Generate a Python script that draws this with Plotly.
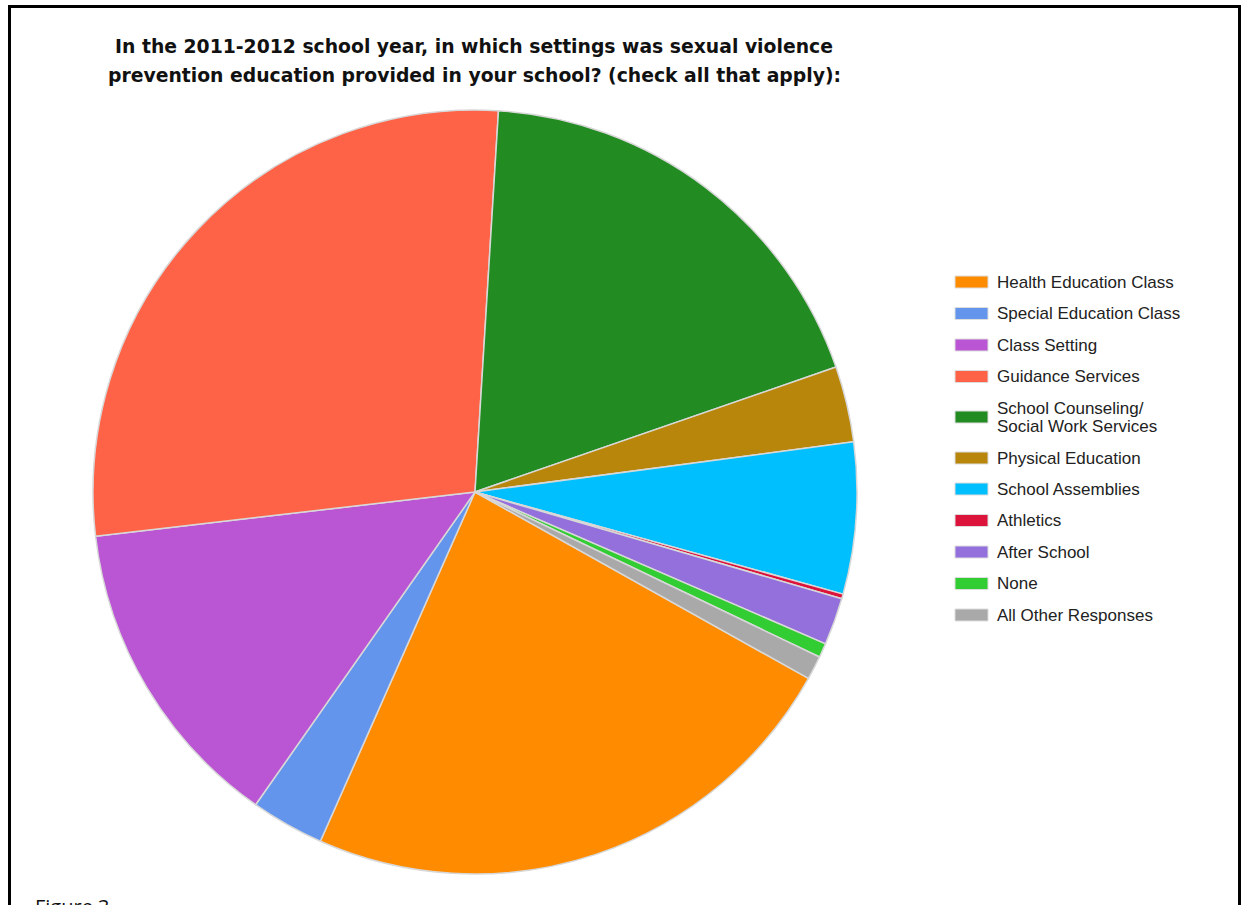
import plotly.graph_objects as go

labels = ["Health Education Class", "Special Education Class", "Class Setting",
          "Guidance Services", "School Counseling/<br>Social Work Services",
          "Physical Education", "School Assemblies", "Athletics", "After School",
          "None", "All Other Responses"]
values = [23.5, 3.1, 13.4, 27.8, 18.7, 3.2, 6.4, 0.2, 2.0, 0.6, 1.0]
colors = ["#FF8C00", "#6495ED", "#BA55D3", "#FF6347", "#228B22", "#B8860B",
          "#00BFFF", "#DC143C", "#9370DB", "#32CD32", "#A9A9A9"]
title_lines = ["In the 2011-2012 school year, in which settings was sexual violence",
               "prevention education provided in your school? (check all that apply):"]

W, H = 1244, 905

def px(x):
    return x / W

def py(y):
    return 1 - y / H

cx, cy, r = 475, 492, 382

fig = go.Figure(go.Pie(
    labels=labels, values=values, sort=False, direction="clockwise",
    rotation=119.2, textinfo="none", hoverinfo="label+percent",
    marker=dict(colors=colors, line=dict(color="#d8d8d8", width=1.5)),
    domain=dict(x=[px(cx - r), px(cx + r)], y=[py(cy + r), py(cy - r)]),
    showlegend=False,
))

shapes = []
annotations = []

# frame
shapes.append(dict(type="rect", xref="paper", yref="paper",
                   x0=px(9.5), x1=px(1239.5), y0=py(960), y1=py(6.5),
                   line=dict(color="black", width=3)))

# title (two lines)
for line, yy in zip(title_lines, [46, 75]):
    annotations.append(dict(text="<b>" + line + "</b>", xref="paper", yref="paper",
                            x=px(474), y=py(yy), xanchor="center", yanchor="middle",
                            showarrow=False, align="center",
                            font=dict(family="DejaVu Sans", size=18.8, color="#111")))

# custom legend
row_y = [282, 313.5, 345, 376.5, 417, 458, 489, 520.5, 552, 583.5, 615]
for lab, col, yy in zip(labels, colors, row_y):
    shapes.append(dict(type="rect", xref="paper", yref="paper",
                       x0=px(955), x1=px(988), y0=py(yy + 6), y1=py(yy - 6),
                       fillcolor=col, line=dict(color="#dddddd", width=1)))
    parts = lab.split("<br>")
    n = len(parts)
    for i, part in enumerate(parts):
        ly = yy + (i - (n - 1) / 2) * 18
        annotations.append(dict(text=part, xref="paper", yref="paper",
                                x=px(995), y=py(ly), xanchor="left", yanchor="middle",
                                showarrow=False, align="left",
                                font=dict(family="Liberation Sans, Arial", size=17, color="#222")))

annotations.append(dict(text="Figure 3", xref="paper", yref="paper",
                        x=px(33), y=py(891), xanchor="left", yanchor="top",
                        showarrow=False,
                        font=dict(family="Open Sans, Liberation Sans", size=20, color="#111")))

fig.update_layout(width=W, height=H, margin=dict(l=0, r=0, t=0, b=0),
                  paper_bgcolor="white", plot_bgcolor="white",
                  shapes=shapes, annotations=annotations)

fig.write_html("out.html")
